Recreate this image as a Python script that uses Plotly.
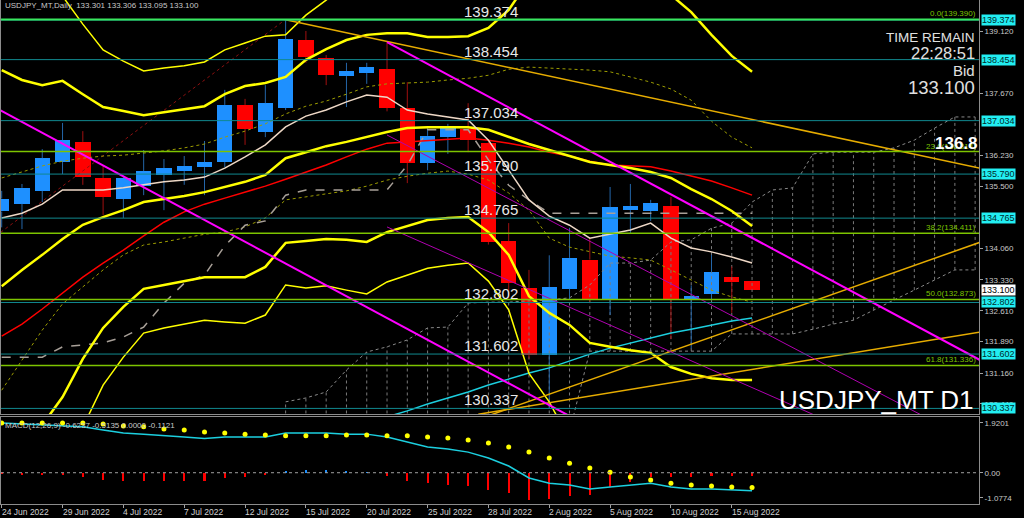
import plotly.graph_objects as go

# ---------------- data ----------------
bar_dates = ["24 Jun", "27 Jun", "28 Jun", "29 Jun", "30 Jun", "1 Jul", "4 Jul", "5 Jul", "6 Jul", "7 Jul",
             "8 Jul", "11 Jul", "12 Jul", "13 Jul", "14 Jul", "15 Jul", "18 Jul", "19 Jul", "20 Jul", "21 Jul",
             "22 Jul", "25 Jul", "26 Jul", "27 Jul", "28 Jul", "29 Jul", "1 Aug", "2 Aug", "3 Aug", "4 Aug",
             "5 Aug", "8 Aug", "9 Aug", "10 Aug", "11 Aug", "12 Aug", "15 Aug", "16 Aug"]
tick_labels = ["24 Jun 2022", "29 Jun 2022", "4 Jul 2022", "7 Jul 2022", "12 Jul 2022", "15 Jul 2022",
               "20 Jul 2022", "25 Jul 2022", "28 Jul 2022", "2 Aug 2022", "5 Aug 2022", "10 Aug 2022",
               "15 Aug 2022"]
tick_bars = [0, 3, 6, 9, 12, 15, 18, 21, 24, 27, 30, 33, 36]

opens = [134.92, 135.10, 135.40, 136.07, 136.54, 135.70, 135.21, 135.51, 135.77, 135.86,
         135.95, 136.07, 137.40, 136.77, 137.33, 138.91, 138.49, 138.07, 138.14, 138.23,
         137.33, 136.05, 136.65, 136.84, 136.51, 134.23, 133.14, 131.58, 133.12, 133.80,
         132.88, 134.95, 134.93, 135.05, 132.88, 133.00, 133.39, 133.301]
highs = [135.40, 135.56, 136.37, 136.98, 136.79, 135.98, 135.75, 136.35, 136.14, 136.21,
         136.56, 137.75, 137.54, 137.86, 139.38, 139.12, 138.56, 138.38, 138.38, 138.86,
         137.93, 136.86, 136.96, 137.44, 136.60, 134.65, 133.56, 133.90, 134.54, 134.30,
         135.49, 135.56, 135.19, 135.26, 133.20, 133.91, 133.64, 133.306]
lows = [134.55, 134.51, 135.14, 135.79, 135.54, 134.84, 134.77, 135.30, 134.95, 135.54,
        135.30, 135.95, 136.47, 136.65, 137.28, 138.38, 137.86, 137.35, 137.89, 137.25,
        135.58, 135.88, 136.26, 136.30, 134.15, 132.90, 131.50, 130.34, 132.86, 132.80,
        132.51, 134.40, 134.70, 131.95, 131.73, 132.85, 132.56, 133.095]
closes = [135.22, 135.47, 136.16, 136.58, 135.72, 135.26, 135.70, 135.86, 135.93, 135.98,
          136.07, 137.40, 136.84, 137.44, 138.93, 138.51, 138.10, 138.19, 138.28, 137.33,
          136.05, 136.68, 136.91, 136.58, 134.21, 133.26, 131.58, 133.16, 133.84, 132.88,
          135.02, 135.05, 135.12, 132.88, 132.95, 133.51, 133.28, 133.100]

# Bollinger-style bands (yellow)
band_up3 = [140.7, 140.3, 140.0, 139.93, 139.28, 138.68, 138.42, 138.19, 138.26, 138.31,
            138.40, 138.68, 138.84, 139.00, 139.03, 139.49, 139.84, 140.2, 140.4, 140.5,
            140.5, 140.5, 140.5, 140.6, 141.0, 141.7, 142.5, 143.0, 143.3, 143.5,
            143.3, 143.0, 142.7, 142.0, 141.6, 141.2, 140.8, 140.5]
band_up2 = [138.21, 137.98, 137.86, 137.96, 137.65, 137.35, 137.26, 137.16, 137.23, 137.30,
            137.37, 137.65, 137.84, 137.91, 138.05, 138.45, 138.70, 138.91, 139.03, 139.07,
            139.07, 138.98, 138.98, 139.00, 139.19, 139.61, 140.3, 140.9, 141.3, 141.5,
            141.3, 141.0, 140.6, 139.96, 139.56, 139.03, 138.54, 138.17]
band_mid = [133.18, 133.56, 133.91, 134.28, 134.61, 134.79, 134.95, 135.14, 135.21, 135.28,
            135.37, 135.49, 135.61, 135.77, 136.16, 136.30, 136.44, 136.54, 136.65, 136.77,
            136.86, 136.88, 136.88, 136.88, 136.82, 136.65, 136.49, 136.35, 136.21, 136.07,
            136.00, 135.93, 135.84, 135.70, 135.44, 135.21, 134.93, 134.58]
band_lo2 = [128.2, 129.1, 129.95, 130.60, 131.49, 132.21, 132.70, 133.12, 133.21, 133.30,
            133.39, 133.39, 133.39, 133.63, 134.19, 134.23, 134.28, 134.26, 134.21, 134.44,
            134.58, 134.72, 134.77, 134.79, 134.44, 133.91, 132.95, 132.56, 132.28, 131.86,
            131.77, 131.69, 131.63, 131.30, 131.14, 131.04, 131.00, 131.00]
band_lo3 = [125.6, 126.9, 128.0, 128.8, 129.9, 130.88, 131.53, 132.09, 132.21, 132.30,
            132.39, 132.35, 132.32, 132.51, 133.21, 133.14, 133.19, 133.09, 133.00, 133.28,
            133.44, 133.60, 133.67, 133.72, 133.30, 132.63, 131.15, 130.49, 129.6, 128.9,
            128.8, 128.7, 128.7, 128.8, 128.7, 128.8, 128.9, 129.2]

ma_red = [132.02, 132.30, 132.65, 133.02, 133.39, 133.72, 134.02, 134.35, 134.67, 134.91,
          135.09, 135.23, 135.37, 135.51, 135.67, 135.84, 136.00, 136.19, 136.37, 136.51,
          136.54, 136.58, 136.61, 136.63, 136.58, 136.51, 136.42, 136.30, 136.21, 136.09,
          136.00, 135.98, 135.96, 135.86, 135.75, 135.63, 135.47, 135.30]
tenkan = [134.77, 134.88, 135.09, 135.42, 135.42, 135.42, 135.47, 135.54, 135.61, 135.65,
          135.72, 135.93, 136.19, 136.47, 136.89, 137.14, 137.28, 137.47, 137.63, 137.58,
          137.28, 137.19, 137.12, 137.05, 136.58, 135.88, 135.19, 134.81, 134.60, 134.30,
          134.39, 134.49, 134.65, 134.30, 134.07, 133.98, 133.86, 133.72]
kijun = [131.53, 131.53, 131.53, 131.77, 131.81, 131.86, 132.00, 132.23, 132.79, 133.25,
         133.44, 134.12, 134.60, 134.70, 135.30, 135.42, 135.42, 135.42, 135.42, 135.42,
         136.00, 136.82, 136.82, 136.82, 136.12, 135.53, 135.19, 134.88, 134.88, 134.88,
         134.88, 134.88, 134.88, 134.88, 134.88, 134.88, 134.88, 134.88]
dot_upper = [135.70, 135.84, 135.98, 136.09, 136.16, 136.21, 136.23, 136.28, 136.33, 136.40,
             136.49, 136.65, 136.79, 136.96, 137.19, 137.37, 137.49, 137.65, 137.82, 137.89,
             137.91, 137.93, 137.98, 138.02, 138.09, 138.23, 138.28, 138.26, 138.23, 138.21,
             138.17, 138.05, 137.93, 137.77, 137.51, 137.02, 136.65, 136.40]
dot_lower = [130.76, 131.46, 132.16, 132.77, 133.16, 133.56, 133.91, 134.14, 134.21, 134.30,
             134.39, 134.44, 134.56, 134.77, 135.19, 135.26, 135.33, 135.40, 135.51, 135.65,
             135.74, 135.81, 135.86, 135.79, 135.65, 135.35, 134.95, 134.30, 134.09, 133.98,
             133.88, 133.84, 133.79, 133.56, 133.33, 133.09, 132.93, 132.81]
ma_cyan_start = 16
ma_cyan = [129.5, 129.8, 129.95, 130.14, 130.28, 130.44, 130.58, 130.72, 130.88, 131.02,
           131.16, 131.28, 131.44, 131.60, 131.74, 131.86, 131.98, 132.09, 132.18, 132.28,
           132.37, 132.44]

cloud_start = 14
cloud_upper = [130.49, 130.58, 130.72, 131.23, 131.65, 131.77, 131.93, 132.21, 132.23, 132.79,
               132.81, 132.81, 132.84, 132.86, 132.91, 133.21, 133.72, 133.72, 133.79, 134.21,
               134.26, 134.53, 134.65, 135.14, 135.42, 135.47, 136.26, 136.30, 136.30, 136.30,
               136.40, 136.58, 136.86, 137.12, 137.12]
cloud_lower = [129.8, 129.8, 129.8, 129.8, 129.8, 129.8, 129.8, 129.8, 129.8, 129.8,
               129.8, 129.8, 129.8, 129.8, 129.8, 131.67, 131.67, 131.67, 131.67, 131.67,
               131.67, 131.67, 132.07, 132.07, 132.07, 132.07, 132.18, 132.30, 132.39, 132.63,
               132.86, 133.09, 133.33, 133.56, 133.56]

# trend lines: (bar position, price) anchor pairs
fib_trend_x, fib_trend_y = [-1, 14], [134.10, 139.39]
gold_down_x, gold_down_y = [14, 49], [139.38, 135.85]
gold_up1_x, gold_up1_y = [23, 49], [130.00, 134.33]
gold_up2_x, gold_up2_y = [23.5, 49], [130.20, 132.17]
mag_a_x, mag_a_y = [-1, 28], [137.51, 130.16]
mag_b_x, mag_b_y = [19, 49], [138.86, 131.27]
mag_c_x, mag_c_y = [19, 49], [136.70, 129.28]
mag_d_x, mag_d_y = [19, 49], [134.56, 128.33]

sr_levels = [139.374, 138.454, 137.034, 135.790, 134.765, 132.802, 131.602, 130.337]
fib_levels = [139.390, 136.314, 134.411, 132.873, 131.336]
fib_names = ["0.0", "23.6", "38.2", "50.0", "61.8"]
bid_price = 133.100

# visible price-scale labels (the others sit under the level boxes)
price_ticks = [139.12, 137.67, 136.23, 135.50, 134.06, 133.33, 132.61, 131.89, 131.16, 130.44]

macd_main = [1.71, 1.68, 1.64, 1.61, 1.58, 1.47, 1.37, 1.33, 1.27, 1.23,
             1.18, 1.23, 1.23, 1.23, 1.37, 1.37, 1.37, 1.33, 1.33, 1.23,
             1.06, 0.89, 0.82, 0.71, 0.51, 0.23, -0.18, -0.36, -0.42, -0.56,
             -0.49, -0.42, -0.36, -0.49, -0.56, -0.56, -0.60, -0.62]
macd_signal = [1.71, 1.71, 1.71, 1.71, 1.71, 1.68, 1.61, 1.58, 1.51, 1.47,
               1.40, 1.37, 1.33, 1.30, 1.27, 1.27, 1.27, 1.30, 1.30, 1.27,
               1.27, 1.23, 1.20, 1.13, 1.02, 0.89, 0.71, 0.51, 0.33, 0.16,
               0.02, -0.15, -0.25, -0.36, -0.42, -0.46, -0.49, -0.51]
macd_hist = [-0.02, -0.08, -0.08, -0.08, -0.16, -0.25, -0.28, -0.29, -0.29, -0.29,
             -0.29, -0.17, -0.14, -0.08, 0.06, 0.09, 0.08, 0.06, 0.02, -0.11,
             -0.29, -0.37, -0.42, -0.46, -0.58, -0.70, -0.94, -0.91, -0.80, -0.75,
             -0.50, -0.31, -0.14, -0.13, -0.13, -0.12, -0.12, -0.11]
macd_top, macd_bottom = 1.9201, -1.0774

# ---------------- figure ----------------
W, H = 1024, 518
PL, PR = 1, 979          # plot area left/right pixel
PH = 504                 # plot area height (top margin 0)
BAR_PX = 20.28
X0 = (PL - 1.7) / BAR_PX
X1 = (PR - 1.7) / BAR_PX
Y_TOP = 139.12 + 31 / 42.97
Y_BOT = 139.12 - 383 / 42.97

n = len(bar_dates)
idx = list(range(n))

BULL, BEAR = "#1E90FF", "#FF0000"
BULL_W, BEAR_W = "#2466A8", "#A01010"

fig = go.Figure()

# candle bodies
body_base = [min(o, c) for o, c in zip(opens, closes)]
body_len = [max(abs(c - o), 0.02) for o, c in zip(opens, closes)]
body_col = [BULL if c >= o else BEAR for o, c in zip(opens, closes)]
fig.add_trace(go.Bar(x=idx, y=body_len, base=body_base, width=0.76, marker=dict(color=body_col, line=dict(width=0)),
                     xaxis="x", yaxis="y", showlegend=False, hoverinfo="skip"))

# macd histogram
fig.add_trace(go.Bar(x=idx, y=macd_hist, width=0.1,
                     marker=dict(color=[BULL if v > 0 else BEAR for v in macd_hist], line=dict(width=0)),
                     xaxis="x2", yaxis="y2", showlegend=False, hoverinfo="skip"))

# cloud hatch (dotted verticals) and borders
cx = list(range(cloud_start, cloud_start + len(cloud_upper)))
vx, vy = [], []
for i, u, l in zip(cx, cloud_upper, cloud_lower):
    vx += [i, i, None]
    vy += [l, u, None]
fig.add_trace(go.Scatter(x=vx, y=vy, mode="lines", line=dict(color="#7A7A7A", width=1, dash="dot"),
                         showlegend=False, hoverinfo="skip"))
fig.add_trace(go.Scatter(x=cx, y=cloud_upper, mode="lines", line=dict(color="#8A8A8A", width=1, dash="dot"),
                         showlegend=False, hoverinfo="skip"))
fig.add_trace(go.Scatter(x=cx, y=cloud_lower, mode="lines", line=dict(color="#8A8A8A", width=1, dash="dot"),
                         showlegend=False, hoverinfo="skip"))

# wicks (drawn outside the body)
def wick_trace(color, bull):
    wx, wy = [], []
    for i, o, h, l, c in zip(idx, opens, highs, lows, closes):
        if (c >= o) != bull:
            continue
        top, bot = max(o, c), min(o, c)
        wx += [i, i, None, i, i, None]
        wy += [h, top, None, bot, l, None]
    return go.Scatter(x=wx, y=wy, mode="lines", line=dict(color=color, width=1), showlegend=False,
                      hoverinfo="skip")

fig.add_trace(wick_trace(BULL_W, True))
fig.add_trace(wick_trace(BEAR_W, False))

def line(xs, ys, color, width, dash="solid"):
    fig.add_trace(go.Scatter(x=xs, y=ys, mode="lines", line=dict(color=color, width=width, dash=dash),
                             showlegend=False, hoverinfo="skip", xaxis="x", yaxis="y"))

line(fib_trend_x, fib_trend_y, "#8B1010", 1, "dot")
line(idx, dot_upper, "#9C9C00", 1, "dot")
line(idx, dot_lower, "#9C9C00", 1, "dot")
line(idx, kijun, "#A8A098", 1.5, "dash")
line(idx, ma_red, "#FF0000", 1.5)
line(list(range(ma_cyan_start, ma_cyan_start + len(ma_cyan))), ma_cyan, "#1CCFDF", 1.5)
line(idx, band_up3, "#FFFF00", 1.5)
line(idx, band_lo3, "#FFFF00", 1.5)
line(idx, band_up2, "#FFFF00", 2.5)
line(idx, band_mid, "#FFFF00", 2.5)
line(idx, band_lo2, "#FFFF00", 2.5)
line(idx, tenkan, "#EED8C6", 1.5)
line(gold_down_x, gold_down_y, "#E6AC00", 1.5)
line(gold_up1_x, gold_up1_y, "#E6AC00", 1.5)
line(gold_up2_x, gold_up2_y, "#E6AC00", 1.5)
line(mag_a_x, mag_a_y, "#FF00FF", 2)
line(mag_b_x, mag_b_y, "#FF00FF", 2)
line(mag_c_x, mag_c_y, "#B000B0", 1)
line(mag_d_x, mag_d_y, "#B000B0", 1)

# MACD lines
fig.add_trace(go.Scatter(x=idx, y=macd_main, mode="lines", line=dict(color="#1CCFDF", width=1.5),
                         xaxis="x2", yaxis="y2", showlegend=False, hoverinfo="skip"))
fig.add_trace(go.Scatter(x=idx, y=macd_signal, mode="markers", marker=dict(color="#FFFF00", size=5),
                         xaxis="x2", yaxis="y2", showlegend=False, hoverinfo="skip"))

# horizontal levels
shapes = []
for lv in sr_levels:
    shapes.append(dict(type="line", xref="paper", x0=0, x1=1, yref="y", y0=lv, y1=lv,
                       line=dict(color="#11898F", width=1), layer="above"))
for k, lv in enumerate(fib_levels):
    shapes.append(dict(type="line", xref="paper", x0=0, x1=1, yref="y", y0=lv, y1=lv,
                       line=dict(color="#39E75F" if k == 0 else "#7DC400", width=2 if k == 0 else 1.5),
                       layer="above"))
shapes.append(dict(type="line", xref="x2", x0=X0, x1=X1, yref="y2", y0=0, y1=0,
                   line=dict(color="#A0A0A0", width=1, dash="dot"), layer="above"))

FONT = "Liberation Sans, Arial, sans-serif"
ann = []

def py(p):  # pixel-from-top -> paper y
    return 1 - p / PH

def px(p):
    return (p - PL) / (PR - PL)

ann.append(dict(text="USDJPY_MT,Daily  133.301 133.306 133.095 133.100", x=px(3), y=py(6), xref="paper",
                yref="paper", xanchor="left", yanchor="middle", showarrow=False,
                font=dict(family=FONT, size=8, color="#C8C8C8")))
for lv in sr_levels:
    ann.append(dict(text=f"{lv:.3f}", x=px(462), y=lv, xref="paper", yref="y", xanchor="left",
                    yanchor="bottom", yshift=-2, showarrow=False, font=dict(family=FONT, size=15, color="#E8E8E8")))
for nm, lv in zip(fib_names, fib_levels):
    ann.append(dict(text=f"{nm}({lv:.3f})", x=1, y=lv, xref="paper", yref="y", xanchor="right",
                    yanchor="bottom", xshift=-1, yshift=-1, showarrow=False,
                    font=dict(family=FONT, size=8, color="#7DC400")))
for lv in sr_levels:
    ann.append(dict(text=f"{lv:.3f}", x=1, y=lv, xref="paper", yref="y", xanchor="left", yanchor="middle",
                    xshift=2, showarrow=False, bgcolor="#22EEF2", borderpad=0,
                    font=dict(family=FONT, size=9, color="#002A2A")))
ann.append(dict(text=f"{bid_price:.3f}", x=1, y=bid_price, xref="paper", yref="y", xanchor="left",
                yanchor="middle", xshift=2, showarrow=False, bgcolor="#FFFFFF", borderpad=0,
                font=dict(family=FONT, size=9, color="#000000")))
for txt, yy, sz in [("TIME REMAIN", 38, 13.5), ("22:28:51", 53, 16.5), ("Bid", 71, 15), ("133.100", 87, 18.5)]:
    ann.append(dict(text=txt, x=px(977), y=py(yy), xref="paper", yref="paper", xanchor="right",
                    yanchor="middle", showarrow=False, font=dict(family=FONT, size=sz, color="#E0E0E0")))
ann.append(dict(text="<b>136.8</b>", x=px(980), y=py(143), xref="paper", yref="paper", xanchor="right",
                yanchor="middle", showarrow=False, font=dict(family=FONT, size=17, color="#FFFFFF")))
ann.append(dict(text="USDJPY_MT D1", x=px(976), y=py(400), xref="paper", yref="paper", xanchor="right",
                yanchor="middle", showarrow=False, font=dict(family=FONT, size=26, color="#FFFFFF")))
ann.append(dict(text="MACD(12,26,9) -0.6237 -0.5135 0.0000 -0.1121", x=px(3), y=py(425), xref="paper",
                yref="paper", xanchor="left", yanchor="middle", showarrow=False,
                font=dict(family=FONT, size=8, color="#C8C8C8")))
for b, t in zip(tick_bars, tick_labels):
    ann.append(dict(text=t, x=b, y=0, xref="x2", yref="paper", xanchor="left", yanchor="top", xshift=-2,
                    yshift=-1, showarrow=False, font=dict(family=FONT, size=8.5, color="#D0D0D0")))

main_dom = [(PH - 414) / PH, 1]
macd_dom = [0, (PH - 417) / PH]

fig.update_layout(
    width=W, height=H, margin=dict(l=PL, r=W - PR, t=0, b=H - PH),
    paper_bgcolor="#000000", plot_bgcolor="#000000", bargap=0, barmode="overlay",
    font=dict(family=FONT, color="#C8C8C8"),
    showlegend=False, shapes=shapes, annotations=ann,
    xaxis=dict(domain=[0, 1], range=[X0, X1], anchor="y", showgrid=False, zeroline=False,
               showticklabels=False, ticks="", showline=True, linecolor="#8C8C8C", linewidth=1),
    yaxis=dict(domain=main_dom, range=[Y_BOT, Y_TOP], side="right", showgrid=False, zeroline=False,
               tickvals=price_ticks, ticktext=[f"{v:.3f}" for v in price_ticks], ticks="outside", ticklen=3,
               tickcolor="#A0A0A0", tickfont=dict(family=FONT, size=8, color="#C8C8C8"),
               showline=True, linecolor="#8C8C8C", linewidth=1, mirror=True),
    xaxis2=dict(domain=[0, 1], range=[X0, X1], anchor="y2", showgrid=False, zeroline=False,
                tickvals=tick_bars, showticklabels=False, ticks="outside", ticklen=3, tickcolor="#A0A0A0",
                showline=True, linecolor="#8C8C8C", linewidth=1, mirror=True),
    yaxis2=dict(domain=macd_dom, range=[macd_bottom, macd_top], side="right", showgrid=False, zeroline=False,
                tickvals=[1.72, 0, -0.87], ticktext=[f"{macd_top:.4f}", "0.00", f"{macd_bottom:.4f}"],
                ticks="outside", ticklen=3, tickcolor="#A0A0A0",
                tickfont=dict(family=FONT, size=8, color="#C8C8C8"),
                showline=True, linecolor="#8C8C8C", linewidth=1, mirror=True),
)

fig.write_html("out.html", config={"displayModeBar": False},
               post_script="document.body.style.margin='0';document.body.style.overflow='hidden';")
